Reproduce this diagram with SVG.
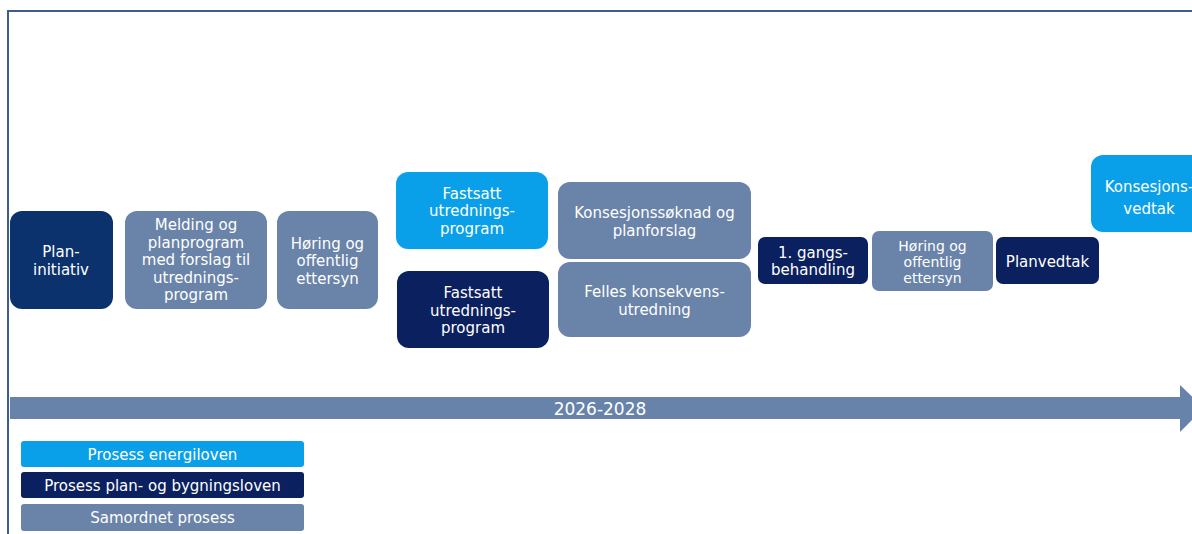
<svg xmlns="http://www.w3.org/2000/svg" width="1192" height="534" viewBox="0 0 1192 534">
<style>
.t{font-family:"DejaVu Sans","Liberation Sans",sans-serif;font-size:15px;fill:#fff;text-anchor:middle}
.s{font-size:14px}
.lb{fill:#0AA0E9}
.nv{fill:#0B205E}
.pi{fill:#0C326E}
.gr{fill:#6A83A8}
</style>
<rect width="1192" height="534" fill="#fff"/>
<g id="frame" fill="none" stroke="#3C5D8E" stroke-width="2">
<path d="M8 534 V11 H1192"/>
</g>
<g id="connectors">
<path id="timeline" d="M10 397 H1180 V385 L1204 408 L1180 432 V419 H10 Z" fill="#6883A9"/>
<text class="t" x="600" y="415" style="font-size:17px">2026-2028</text>
</g>
<g id="n-planinitiativ">
<rect class="pi" x="10" y="211" width="103" height="98" rx="12"/>
<text class="t" x="61" y="257">Plan-</text>
<text class="t" x="61" y="275">initiativ</text>
</g>
<g id="n-melding">
<rect class="gr" x="125" y="211" width="142" height="98" rx="12"/>
<text class="t" x="196" y="230">Melding og</text>
<text class="t" x="196" y="247.5">planprogram</text>
<text class="t" x="196" y="265">med forslag til</text>
<text class="t" x="196" y="282.5">utrednings-</text>
<text class="t" x="196" y="300">program</text>
</g>
<g id="n-horing1">
<rect class="gr" x="277" y="211" width="101" height="98" rx="12"/>
<text class="t" x="327.5" y="248.5">Høring og</text>
<text class="t" x="327.5" y="266">offentlig</text>
<text class="t" x="327.5" y="283.5">ettersyn</text>
</g>
<g id="n-fastsatt-energi">
<rect class="lb" x="396" y="172" width="152" height="77" rx="12"/>
<text class="t" x="472" y="198.5">Fastsatt</text>
<text class="t" x="472" y="216">utrednings-</text>
<text class="t" x="472" y="233.5">program</text>
</g>
<g id="n-fastsatt-pbl">
<rect class="nv" x="397" y="271" width="152" height="77" rx="12"/>
<text class="t" x="473" y="298">Fastsatt</text>
<text class="t" x="473" y="315.5">utrednings-</text>
<text class="t" x="473" y="333">program</text>
</g>
<g id="n-konsesjonssoknad">
<rect class="gr" x="558" y="182" width="193" height="77" rx="12"/>
<text class="t" x="654.5" y="218">Konsesjonssøknad og</text>
<text class="t" x="654.5" y="235.5">planforslag</text>
</g>
<g id="n-felles">
<rect class="gr" x="558" y="262" width="193" height="75" rx="12"/>
<text class="t" x="654.5" y="297">Felles konsekvens-</text>
<text class="t" x="654.5" y="314.5">utredning</text>
</g>
<g id="n-gangsbehandling">
<rect class="nv" x="758" y="237" width="110" height="47" rx="7"/>
<text class="t" x="813" y="258">1. gangs-</text>
<text class="t" x="813" y="275">behandling</text>
</g>
<g id="n-horing2">
<rect class="gr" x="872" y="231" width="121" height="60" rx="7"/>
<text class="t s" x="932.5" y="250.5">Høring og</text>
<text class="t s" x="932.5" y="266.5">offentlig</text>
<text class="t s" x="932.5" y="282.5">ettersyn</text>
</g>
<g id="n-planvedtak">
<rect class="nv" x="996" y="237" width="103" height="47" rx="7"/>
<text class="t" x="1047.5" y="267">Planvedtak</text>
</g>
<g id="n-konsesjonsvedtak">
<rect class="lb" x="1091" y="155" width="130" height="77" rx="12"/>
<text class="t" x="1149" y="192">Konsesjons-</text>
<text class="t" x="1149" y="213.5">vedtak</text>
</g>
<g id="legend">
<g id="l-energi">
<rect class="lb" x="21" y="441" width="283" height="26" rx="3"/>
<text class="t" x="162.5" y="460">Prosess energiloven</text>
</g>
<g id="l-pbl">
<rect class="nv" x="21" y="472" width="283" height="26" rx="3"/>
<text class="t" x="162.5" y="491">Prosess plan- og bygningsloven</text>
</g>
<g id="l-samordnet">
<rect class="gr" x="21" y="504" width="283" height="27" rx="3"/>
<text class="t" x="162.5" y="523">Samordnet prosess</text>
</g>
</g>
</svg>
